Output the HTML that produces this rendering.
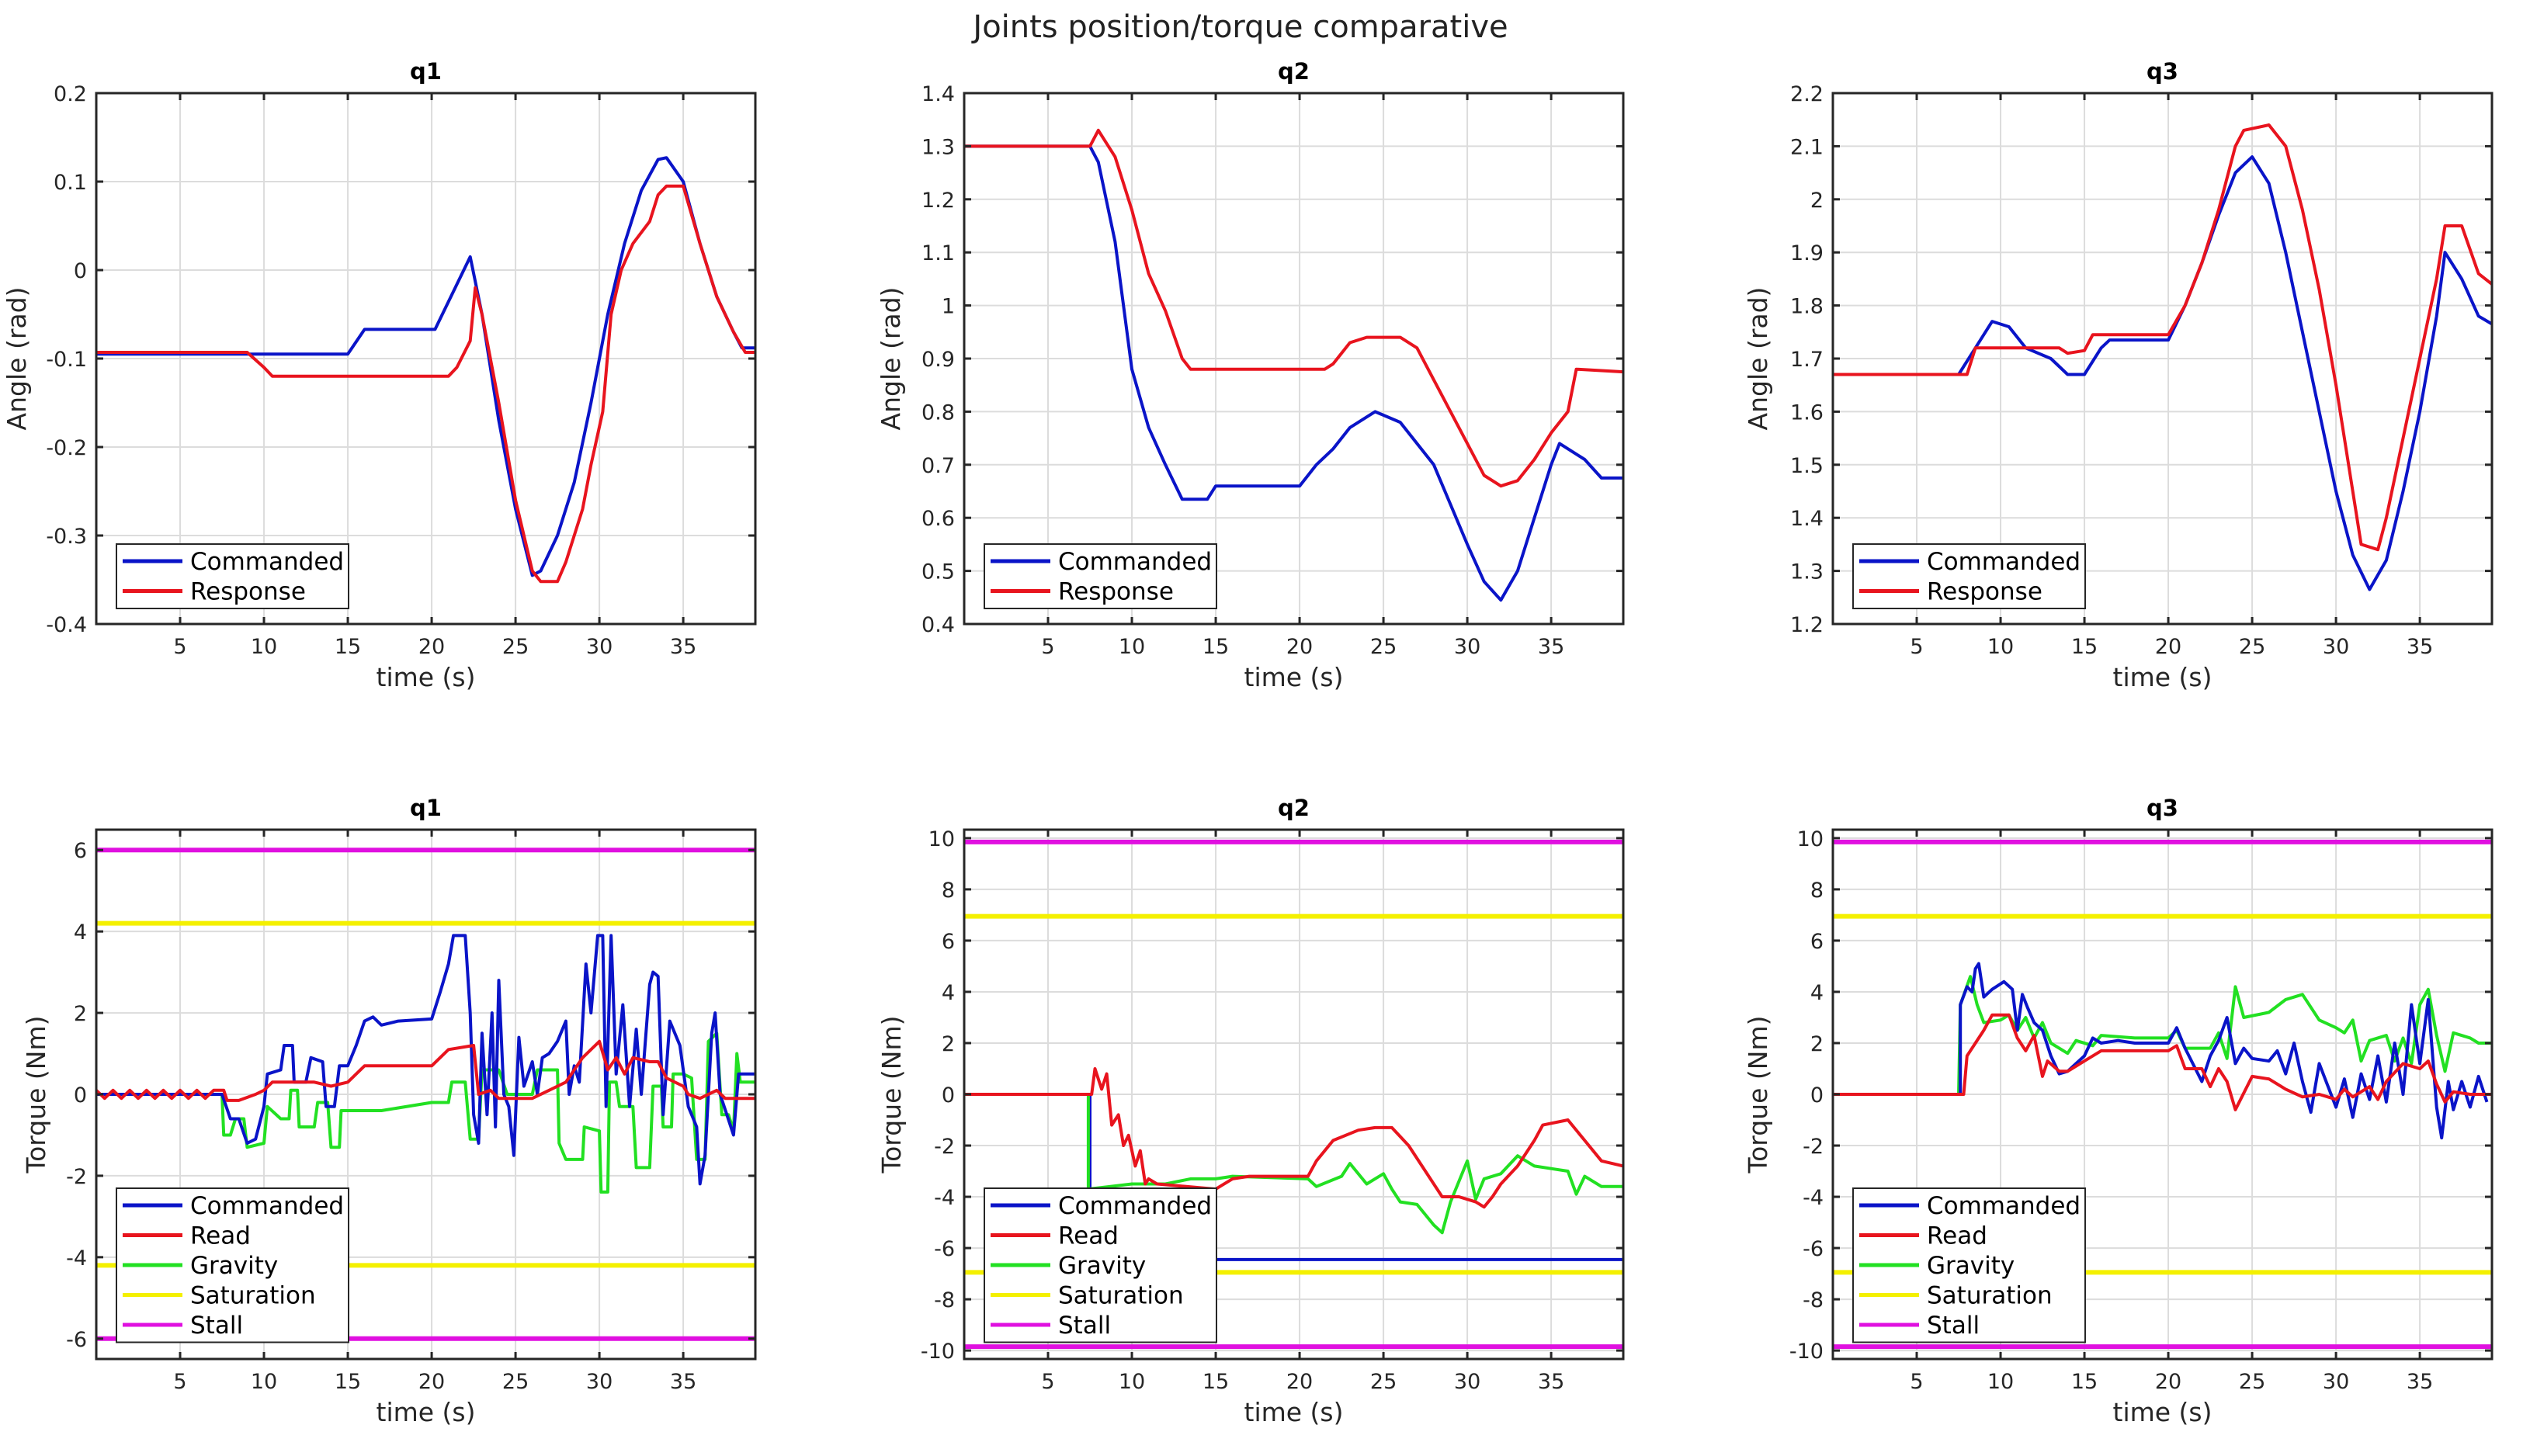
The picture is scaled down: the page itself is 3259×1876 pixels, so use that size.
<!DOCTYPE html>
<html><head><meta charset="utf-8"><style>
html,body{margin:0;padding:0;background:#fff;}
svg{display:block;font-family:"DejaVu Sans","Liberation Sans",sans-serif;}
</style></head><body>
<svg id="fig" width="3259" height="1876" viewBox="0 0 3259 1876" xmlns="http://www.w3.org/2000/svg">
<rect width="3259" height="1876" fill="#fff"/>
<text x="1598" y="48" font-size="40" text-anchor="middle" fill="#222">Joints position/torque comparative</text>
</svg>
<script>
// ---------- data ----------
const xTicks=[5,10,15,20,25,30,35];
const q1PosTicks=[-0.4,-0.3,-0.2,-0.1,0,0.1,0.2];
const q2PosTicks=[0.4,0.5,0.6,0.7,0.8,0.9,1,1.1,1.2,1.3,1.4];
const q3PosTicks=[1.2,1.3,1.4,1.5,1.6,1.7,1.8,1.9,2,2.1,2.2];
const q1TorTicks=[-6,-4,-2,0,2,4,6];
const q23TorTicks=[-10,-8,-6,-4,-2,0,2,4,6,8,10];

const q1CmdT=[0,15,16,20.2,22.3,23,24,25,26,26.5,27.5,28.5,29.5,30.5,31.5,32.5,33.5,34,35,36,37,38,38.5,39.3];
const q1CmdV=[-0.095,-0.095,-0.067,-0.067,0.015,-0.05,-0.17,-0.27,-0.345,-0.34,-0.3,-0.24,-0.15,-0.05,0.03,0.09,0.125,0.127,0.1,0.03,-0.03,-0.07,-0.088,-0.088];
const q1RespT=[0,9,10,10.5,21,21.5,22.3,22.6,23,24,25,26,26.5,27.5,28,29,29.5,30.2,30.7,31.3,32,33,33.5,34,35,36,37,38,38.7,39.3];
const q1RespV=[-0.093,-0.093,-0.11,-0.12,-0.12,-0.11,-0.08,-0.02,-0.05,-0.15,-0.26,-0.34,-0.352,-0.352,-0.33,-0.27,-0.22,-0.16,-0.05,0,0.03,0.055,0.085,0.095,0.095,0.03,-0.03,-0.07,-0.093,-0.093];

const q2CmdT=[0,7.5,8,9,10,11,12,13,14.5,15,20,21,22,23,24.5,26,28,30,31,32,33,34,35,35.5,37,38,39.3];
const q2CmdV=[1.3,1.3,1.27,1.12,0.88,0.77,0.7,0.635,0.635,0.66,0.66,0.7,0.73,0.77,0.8,0.78,0.7,0.55,0.48,0.445,0.5,0.6,0.7,0.74,0.71,0.675,0.675];
const q2RespT=[0,7.5,8,9,10,11,12,13,13.5,21.5,22,23,24,26,27,28,29,30,31,32,33,34,35,36,36.5,39.3];
const q2RespV=[1.3,1.3,1.33,1.28,1.18,1.06,0.99,0.9,0.88,0.88,0.89,0.93,0.94,0.94,0.92,0.86,0.8,0.74,0.68,0.66,0.67,0.71,0.76,0.8,0.88,0.875];

const q3CmdT=[0,7.5,8.5,9.5,10.5,11.5,13,14,15,16,16.5,20,21,22,23,24,25,26,27,28,29,30,31,32,33,34,35,36,36.5,37.5,38.5,39.3];
const q3CmdV=[1.67,1.67,1.72,1.77,1.76,1.72,1.7,1.67,1.67,1.72,1.735,1.735,1.8,1.88,1.97,2.05,2.08,2.03,1.9,1.75,1.6,1.45,1.33,1.265,1.32,1.45,1.6,1.78,1.9,1.85,1.78,1.765];
const q3RespT=[0,8,8.5,13.5,14,15,15.5,20,21,22,23,24,24.5,26,27,28,29,30,31,31.5,32.5,33,34,35,36,36.5,37.5,38.5,39.3];
const q3RespV=[1.67,1.67,1.72,1.72,1.71,1.715,1.745,1.745,1.8,1.88,1.98,2.1,2.13,2.14,2.1,1.98,1.83,1.65,1.45,1.35,1.34,1.4,1.55,1.7,1.85,1.95,1.95,1.86,1.84];

const t1CmdT=[0,7.5,8,8.5,9,9.5,10,10.2,11,11.2,11.7,11.8,12.5,12.8,13.5,13.7,14.2,14.5,15,15.5,16,16.5,17,18,20,20.5,21,21.3,22,22.3,22.5,22.8,23,23.3,23.6,23.8,24,24.3,24.6,24.9,25.2,25.5,26,26.3,26.6,27,27.5,28,28.2,28.5,28.8,29.2,29.5,29.9,30.2,30.4,30.7,31,31.4,31.8,32.2,32.5,33,33.2,33.5,33.8,34.2,34.8,35.3,35.8,36,36.3,36.7,36.9,37.2,37.6,38,38.3,39.3];
const t1CmdV=[0,0,-0.6,-0.6,-1.2,-1.1,-0.3,0.5,0.6,1.2,1.2,0.3,0.3,0.9,0.8,-0.3,-0.3,0.7,0.7,1.2,1.8,1.9,1.7,1.8,1.85,2.5,3.2,3.9,3.9,2.0,-0.5,-1.2,1.5,-0.5,2.0,-0.8,2.8,0,-0.3,-1.5,1.4,0.2,0.8,0,0.9,1,1.3,1.8,0,0.7,0.3,3.2,2.0,3.9,3.9,-0.3,3.9,0.5,2.2,-0.3,1.6,0,2.7,3.0,2.9,-0.5,1.8,1.2,-0.3,-0.8,-2.2,-1.5,1.5,2.0,0,-0.5,-1.0,0.5,0.5];
const t1ReadT=[0,0.5,1,1.5,2,2.5,3,3.5,4,4.5,5,5.5,6,6.5,7,7.6,7.8,8.5,9.5,10,10.5,13,14,15,16,20,21,22.5,22.8,23.5,24,26,27,28,29,30,30.5,31,31.5,32,33,33.5,34,35,35.3,36,37,37.5,39.3];
const t1ReadV=[0.1,-0.1,0.1,-0.1,0.1,-0.1,0.1,-0.1,0.1,-0.1,0.1,-0.1,0.1,-0.1,0.1,0.1,-0.15,-0.15,0,0.1,0.3,0.3,0.2,0.3,0.7,0.7,1.1,1.2,0,0.1,-0.1,-0.1,0.1,0.3,0.9,1.3,0.6,0.9,0.5,0.9,0.8,0.8,0.4,0.2,0,-0.1,0.1,-0.1,-0.1];
const t1GravT=[0,7.5,7.6,8,8.3,8.8,9,10,10.2,11,11.5,11.6,12,12.1,13,13.2,13.8,14,14.5,14.6,17,20,21,21.2,22,22.3,22.8,23,24,24.5,26,26.3,27.5,27.6,28,29,29.1,30,30.1,30.5,30.6,31,31.2,32,32.2,33,33.2,33.7,33.8,34.3,34.4,35,35.5,35.8,36.3,36.5,37,37.3,37.7,38,38.2,38.4,39.3];
const t1GravV=[0,0,-1.0,-1.0,-0.6,-0.6,-1.3,-1.2,-0.3,-0.6,-0.6,0.1,0.1,-0.8,-0.8,-0.2,-0.2,-1.3,-1.3,-0.4,-0.4,-0.2,-0.2,0.3,0.3,-1.1,-1.1,0.6,0.6,0,0,0.6,0.6,-1.2,-1.6,-1.6,-0.8,-0.9,-2.4,-2.4,0.3,0.3,-0.3,-0.3,-1.8,-1.8,0.2,0.2,-0.8,-0.8,0.5,0.5,0.4,-1.6,-1.6,1.3,1.5,-0.5,-0.5,-0.9,1.0,0.3,0.3];
const t1Sat=[4.2,-4.2];
const t1Stall=[6,-6];

const t2CmdT=[0,7.5,7.5,39.3];
const t2CmdV=[0,0,-6.45,-6.45];
const t2ReadT=[0,7.6,7.8,8.2,8.5,8.8,9.2,9.5,9.8,10.2,10.5,10.8,11,11.5,15,16,17,20.5,21,22,23.5,24.5,25.5,26.5,27.5,28.5,29.5,30.5,31,31.5,32,33,34,34.5,36,37,38,39.3];
const t2ReadV=[0,0,1.0,0.2,0.8,-1.2,-0.8,-2.0,-1.6,-2.8,-2.2,-3.5,-3.3,-3.5,-3.7,-3.3,-3.2,-3.2,-2.6,-1.8,-1.4,-1.3,-1.3,-2.0,-3.0,-4.0,-4.0,-4.2,-4.4,-4.0,-3.5,-2.8,-1.8,-1.2,-1.0,-1.8,-2.6,-2.8];
const t2GravT=[0,7.4,7.4,10,12,13.5,15,16,20.5,21,22.5,23,24,25,25.5,26,27,28,28.5,29,30,30.5,31,32,33,34,35,36,36.5,37,38,39.3];
const t2GravV=[0,0,-3.7,-3.5,-3.5,-3.3,-3.3,-3.2,-3.3,-3.6,-3.2,-2.7,-3.5,-3.1,-3.7,-4.2,-4.3,-5.1,-5.4,-4.2,-2.6,-4.1,-3.3,-3.1,-2.4,-2.8,-2.9,-3.0,-3.9,-3.2,-3.6,-3.6];
const t2Sat=[6.95,-6.95];
const t2Stall=[9.85,-9.85];

const t3CmdT=[0,7.6,7.6,8,8.3,8.5,8.7,9,9.5,10.2,10.7,11,11.3,11.6,12,12.5,13,13.5,14,15,15.5,16,17,18,20,20.5,21,22,22.5,23,23.5,24,24.5,25,26,26.5,27,27.5,28,28.5,29,30,30.5,31,31.5,32,32.5,33,33.5,34,34.5,35,35.5,36,36.3,36.7,37,37.5,38,38.5,39];
const t3CmdV=[0,0,3.5,4.2,4.0,4.9,5.1,3.8,4.1,4.4,4.1,2.5,3.9,3.4,2.8,2.5,1.5,0.8,0.9,1.5,2.2,2.0,2.1,2.0,2.0,2.6,1.8,0.5,1.5,2.1,3.0,1.2,1.8,1.4,1.3,1.7,0.8,2.0,0.5,-0.7,1.2,-0.5,0.6,-0.9,0.8,-0.2,1.5,-0.3,2.0,0,3.5,1.2,3.7,-0.5,-1.7,0.5,-0.6,0.5,-0.5,0.7,-0.3];
const t3ReadT=[0,7.8,8,8.5,9,9.5,10.5,11,11.5,12,12.5,12.8,13.5,14,15,16,20,20.5,21,22,22.5,23,23.5,24,25,26,27,28,29,30,30.5,31,32,32.5,33,34,35,35.5,36,36.5,37,38,39.3];
const t3ReadV=[0,0,1.5,2.0,2.5,3.1,3.1,2.2,1.7,2.3,0.7,1.3,0.9,0.9,1.3,1.7,1.7,1.9,1.0,1.0,0.3,1.0,0.5,-0.6,0.7,0.6,0.2,-0.1,0,-0.2,0.2,-0.1,0.3,-0.2,0.5,1.2,1.0,1.3,0.4,-0.3,0.1,0,0];
const t3GravT=[0,7.5,7.6,8.2,8.6,9,10,10.5,11,11.5,12,12.5,13,14,14.5,15.5,16,18,20,20.5,21,22.5,23,23.5,24,24.5,26,27,28,28.5,29,30,30.5,31,31.5,32,33,33.5,34,34.5,35,35.5,36,36.5,37,38,38.5,39.3];
const t3GravV=[0,0,3.5,4.6,3.5,2.8,2.9,3.1,2.5,3.0,2.2,2.8,2.0,1.6,2.1,1.9,2.3,2.2,2.2,2.5,1.8,1.8,2.4,1.4,4.2,3.0,3.2,3.7,3.9,3.4,2.9,2.6,2.4,2.9,1.3,2.1,2.3,1.3,2.2,1.2,3.5,4.1,2.3,0.9,2.4,2.2,2.0,2.0];
const t3Sat=[6.95,-6.95];
const t3Stall=[9.85,-9.85];

// ---------- drawing ----------
const NS="http://www.w3.org/2000/svg";
const svg=document.getElementById('fig');
const BLUE="#0a14c8",RED="#e8141e",GREEN="#22e022",YEL="#f4f000",MAG="#e010e0";
function mk(tag,attrs,parent){const e=document.createElementNS(NS,tag);for(const k in attrs)e.setAttribute(k,attrs[k]);(parent||svg).appendChild(e);return e;}

function panel(cfg){
  const L=cfg.left,T=cfg.top,W=849,H=cfg.h,xmax=39.3;
  const sx=t=>L+t/xmax*W;
  const sy=v=>T+(cfg.ymax-v)/(cfg.ymax-cfg.ymin)*H;
  const g=mk('g',{});
  
  
  // grid
  xTicks.forEach(t=>{const l=mk('line',{x1:sx(t),x2:sx(t),y1:T,y2:T+H,stroke:'#dcdcdc','stroke-width':2},g);
    });
  cfg.yt.forEach(v=>{const l=mk('line',{x1:L,x2:L+W,y1:sy(v),y2:sy(v),stroke:'#dcdcdc','stroke-width':2},g);
    });
  const clip='c'+cfg.name;
  const cp=mk('clipPath',{id:clip},g);mk('rect',{x:L,y:T,width:W,height:H},cp);
  const dg=mk('g',{'clip-path':'url(#'+clip+')'},g);
  // constant lines
  (cfg.stall||[]).forEach(v=>{const l=mk('line',{x1:L,x2:L+W,y1:sy(v),y2:sy(v),stroke:MAG,'stroke-width':6},dg);
    });
  (cfg.sat||[]).forEach(v=>{const l=mk('line',{x1:L,x2:L+W,y1:sy(v),y2:sy(v),stroke:YEL,'stroke-width':6},dg);
    });
  cfg.series.forEach(s=>{
    const pts=s.t.map((t,i)=>sx(t).toFixed(1)+','+sy(s.v[i]).toFixed(1)).join(' ');
    const p=mk('polyline',{points:pts,fill:'none',stroke:s.c,'stroke-width':4,'stroke-linejoin':'round'},dg);
    
    
  });
  // box
  const b=mk('rect',{x:L,y:T,width:W,height:H,fill:'none',stroke:'#262626','stroke-width':3},g);
  
  // ticks + labels
  xTicks.forEach(t=>{
    mk('line',{x1:sx(t),x2:sx(t),y1:T+H,y2:T+H-9,stroke:'#262626','stroke-width':3},g);
    mk('line',{x1:sx(t),x2:sx(t),y1:T,y2:T+9,stroke:'#262626','stroke-width':3},g);
    const tx=mk('text',{x:sx(t),y:T+H+38,'font-size':27,'text-anchor':'middle',fill:'#262626'},g);
    tx.textContent=t;
  });
  cfg.yt.forEach(v=>{
    mk('line',{x1:L,x2:L+9,y1:sy(v),y2:sy(v),stroke:'#262626','stroke-width':3},g);
    mk('line',{x1:L+W,x2:L+W-9,y1:sy(v),y2:sy(v),stroke:'#262626','stroke-width':3},g);
    const tx=mk('text',{x:L-12,y:sy(v)+10,'font-size':27,'text-anchor':'end',fill:'#262626'},g);
    tx.textContent=String(Math.round(v*10)/10);
  });
  const tt=mk('text',{x:L+W/2,y:T-18,'font-size':29,'font-weight':'bold','text-anchor':'middle',fill:'#000'},g);
  tt.textContent=cfg.title;
  const xl=mk('text',{x:L+W/2,y:T+H+80,'font-size':33,'text-anchor':'middle',fill:'#262626'},g);
  xl.textContent='time (s)';
  const yx=L-cfg.ylOff,yy=T+H/2;
  const yl=mk('text',{x:yx,y:yy,'font-size':33,'text-anchor':'middle',fill:'#262626',transform:'rotate(-90 '+yx+' '+yy+')'},g);
  yl.textContent=cfg.ylabel;
  // legend
  const ents=cfg.legend;const rowH=38.5;const lh=ents.length*rowH+6;
  const lx=L+26,ly=cfg.legTop;
  const lg=mk('g',{},g);
  mk('rect',{x:lx,y:ly,width:299,height:lh,fill:'#fff',stroke:'#262626','stroke-width':2},lg);
  ents.forEach((e,i)=>{
    const cy=ly+22+i*rowH;
    const en=mk('g',{},lg);
    mk('line',{x1:lx+8,x2:lx+85,y1:cy,y2:cy,stroke:e[1],'stroke-width':5},en);
    const tx=mk('text',{x:lx+95,y:cy+11,'font-size':31,fill:'#000'},en);tx.textContent=e[0];
  });
}
const lefts=[124,1242,2361];
const posLeg=[['Commanded',BLUE],['Response',RED]];
const torLeg=[['Commanded',BLUE],['Read',RED],['Gravity',GREEN],['Saturation',YEL],['Stall',MAG]];
panel({name:'q1-position-plot',title:'q1',left:lefts[0],top:120,h:684,ymin:-0.4,ymax:0.2,yt:q1PosTicks,ylabel:'Angle (rad)',ylOff:91,legTop:701,legend:posLeg,
  series:[{t:q1CmdT,v:q1CmdV,c:BLUE,n:'q1-commanded-line'},{t:q1RespT,v:q1RespV,c:RED,n:'q1-response-line'}]});
panel({name:'q2-position-plot',title:'q2',left:lefts[1],top:120,h:684,ymin:0.4,ymax:1.4,yt:q2PosTicks,ylabel:'Angle (rad)',ylOff:83,legTop:701,legend:posLeg,
  series:[{t:q2CmdT,v:q2CmdV,c:BLUE,n:'q2-commanded-line'},{t:q2RespT,v:q2RespV,c:RED,n:'q2-response-line'}]});
panel({name:'q3-position-plot',title:'q3',left:lefts[2],top:120,h:684,ymin:1.2,ymax:2.2,yt:q3PosTicks,ylabel:'Angle (rad)',ylOff:85,legTop:701,legend:posLeg,
  series:[{t:q3CmdT,v:q3CmdV,c:BLUE,n:'q3-commanded-line'},{t:q3RespT,v:q3RespV,c:RED,n:'q3-response-line'}]});
panel({name:'q1-torque-plot',title:'q1',left:lefts[0],top:1069,h:682,ymin:-6.5,ymax:6.5,yt:q1TorTicks,ylabel:'Torque (Nm)',ylOff:66,legTop:1531,legend:torLeg,sat:t1Sat,stall:t1Stall,
  series:[{t:t1GravT,v:t1GravV,c:GREEN,n:'q1-gravity-line'},{t:t1CmdT,v:t1CmdV,c:BLUE,n:'q1-commanded-torque-line'},{t:t1ReadT,v:t1ReadV,c:RED,n:'q1-read-torque-line'}]});
panel({name:'q2-torque-plot',title:'q2',left:lefts[1],top:1069,h:682,ymin:-10.33,ymax:10.33,yt:q23TorTicks,ylabel:'Torque (Nm)',ylOff:82,legTop:1531,legend:torLeg,sat:t2Sat,stall:t2Stall,
  series:[{t:t2CmdT,v:t2CmdV,c:BLUE,n:'q2-commanded-torque-line'},{t:t2GravT,v:t2GravV,c:GREEN,n:'q2-gravity-line'},{t:t2ReadT,v:t2ReadV,c:RED,n:'q2-read-torque-line'}]});
panel({name:'q3-torque-plot',title:'q3',left:lefts[2],top:1069,h:682,ymin:-10.33,ymax:10.33,yt:q23TorTicks,ylabel:'Torque (Nm)',ylOff:85,legTop:1531,legend:torLeg,sat:t3Sat,stall:t3Stall,
  series:[{t:t3GravT,v:t3GravV,c:GREEN,n:'q3-gravity-line'},{t:t3CmdT,v:t3CmdV,c:BLUE,n:'q3-commanded-torque-line'},{t:t3ReadT,v:t3ReadV,c:RED,n:'q3-read-torque-line'}]});
</script>
</body></html>
